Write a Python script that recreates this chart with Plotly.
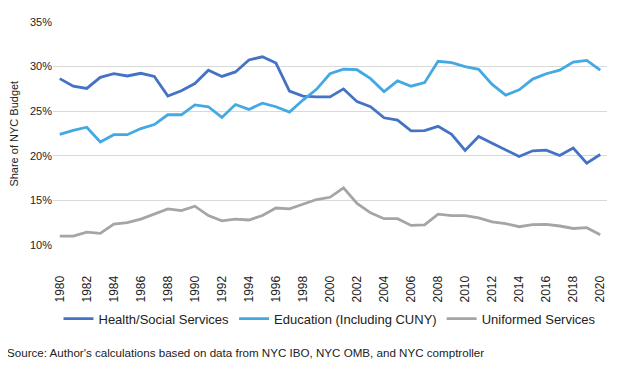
import plotly.graph_objects as go

years = list(range(1980, 2021))

health = [28.65, 27.8, 27.55, 28.8, 29.2, 28.95, 29.25, 28.9, 26.7, 27.3,
          28.1, 29.6, 28.9, 29.4, 30.75, 31.1, 30.4, 27.25, 26.7, 26.6,
          26.6, 27.5, 26.07, 25.5, 24.26, 24.0, 22.8, 22.83, 23.3, 22.4,
          20.6, 22.16, 21.4, 20.67, 19.93, 20.56, 20.63, 20.04, 20.86, 19.18,
          20.15]

education = [22.4, 22.85, 23.2, 21.55, 22.37, 22.37, 23.05, 23.5, 24.6, 24.6,
             25.7, 25.5, 24.3, 25.75, 25.2, 25.9, 25.5, 24.9, 26.25, 27.45,
             29.2, 29.7, 29.65, 28.65, 27.2, 28.4, 27.8, 28.2, 30.6, 30.45,
             30.0, 29.7, 28.0, 26.8, 27.4, 28.6, 29.2, 29.6, 30.5, 30.7,
             29.6]

uniformed = [11.0, 11.0, 11.45, 11.3, 12.35, 12.5, 12.9, 13.5, 14.05, 13.85,
             14.35, 13.3, 12.7, 12.9, 12.8, 13.3, 14.15, 14.05, 14.55, 15.1,
             15.35, 16.4, 14.66, 13.6, 12.95, 12.95, 12.2, 12.25, 13.45, 13.3,
             13.3, 13.05, 12.6, 12.4, 12.05, 12.28, 12.31, 12.13, 11.85, 11.94,
             11.16]

series_names = ["Health/Social Services", "Education (Including CUNY)", "Uniformed Services"]
series_colors = ["#4472C4", "#43A9E3", "#A5A5A5"]

x_ticks = list(range(1980, 2021, 2))
y_ticks = [10, 15, 20, 25, 30, 35]
y_tick_text = [f"{v}%" for v in y_ticks]

fig = go.Figure()
for name, vals, col in zip(series_names, [health, education, uniformed], series_colors):
    fig.add_trace(go.Scatter(x=years, y=vals, mode="lines", name=name,
                             line=dict(color=col, width=2.8)))

FONT = "Liberation Sans, Arial, sans-serif"

# plot area in page pixels: x 53..607, y 22..245 (page has ~8px body offset)
fig.update_layout(
    width=640, height=382,
    margin=dict(l=45, r=41, t=14, b=145),
    paper_bgcolor="white", plot_bgcolor="white",
    font=dict(family=FONT, size=11, color="#222222"),
    showlegend=True,
    legend=dict(orientation="h", x=0.5, xanchor="center", y=-0.33, yanchor="middle",
                font=dict(size=13, color="#222222"), itemwidth=30,
                traceorder="normal"),
    xaxis=dict(range=[1979.5, 2020.5], tickvals=x_ticks, ticktext=[str(t) for t in x_ticks],
               tickangle=-90, showgrid=False, zeroline=False, showline=False,
               ticks="outside", ticklen=25, tickcolor="rgba(0,0,0,0)", automargin=False,
               tickfont=dict(size=12, color="#222222")),
    yaxis=dict(range=[10, 35], tickvals=y_ticks, ticktext=y_tick_text,
               showgrid=True, gridcolor="#D9D9D9", gridwidth=1.3, zeroline=False,
               showline=False, ticks="", automargin=False,
               tickfont=dict(size=11, color="#222222")),
    annotations=[
        dict(text="Share of NYC Budget", x=-0.072, y=0.5, xref="paper", yref="paper",
             textangle=-90, showarrow=False, font=dict(size=11, color="#222222"),
             xanchor="center", yanchor="middle"),
        dict(text="Source: Author's calculations based on data from NYC IBO, NYC OMB, and NYC comptroller",
             x=-0.087, y=-0.48, xref="paper", yref="paper", showarrow=False,
             xanchor="left", yanchor="middle", font=dict(size=11.6, color="#222222")),
    ],
)

fig.write_html("out.html")
